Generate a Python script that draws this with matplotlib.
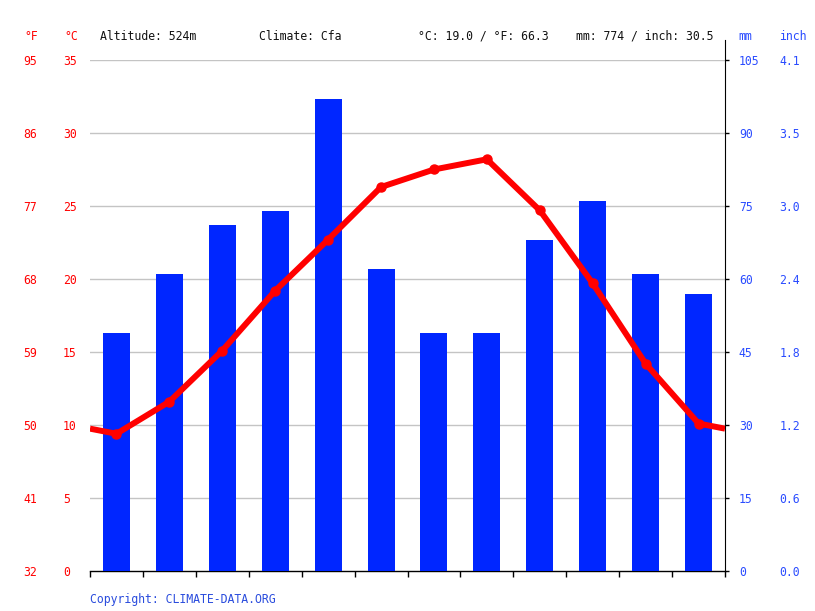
import numpy as np
import matplotlib
matplotlib.use("Agg")
import matplotlib.pyplot as plt

months = ["01", "02", "03", "04", "05", "06", "07", "08", "09", "10", "11", "12"]
temp_c = [9.4, 11.6, 15.1, 19.2, 22.7, 26.3, 27.5, 28.2, 24.7, 19.7, 14.2, 10.1]
precip_mm = [49, 61, 71, 74, 97, 62, 49, 49, 68, 76, 61, 57]

c_ticks = [0, 5, 10, 15, 20, 25, 30, 35]
f_labels = ["32", "41", "50", "59", "68", "77", "86", "95"]
mm_ticks = [0, 15, 30, 45, 60, 75, 90, 105]
inch_labels = ["0.0", "0.6", "1.2", "1.8", "2.4", "3.0", "3.5", "4.1"]

header = ["Altitude: 524m", "Climate: Cfa", "°C: 19.0 / °F: 66.3", "mm: 774 / inch: 30.5"]

plt.rcParams["font.family"] = ["DejaVu Sans Mono"]
fs = 8.3
RED = "#ff0000"
BLUE = "#0026ff"
LBLUE = "#2a4cff"
W, H = 815, 611

fig = plt.figure(figsize=(W / 100, H / 100), dpi=100)
ax = fig.add_axes([90 / W, 40 / H, 635 / W, 511 / H])
ax2 = ax.twinx()

x = np.arange(12)
ax2.bar(x, precip_mm, width=0.51, color=BLUE, zorder=2)
ax2.set_ylim(0, 105)

# temperature line, with ends wrapped around to the plot edges
edge = (temp_c[0] + temp_c[-1]) / 2
xl = np.concatenate([[-0.5], x, [11.5]])
yl = np.concatenate([[edge], temp_c, [edge]])
ax3 = ax.twinx()
ax3.set_ylim(0, 35)
ax3.plot(xl, yl, color=RED, lw=4.3, solid_capstyle="butt", zorder=5)
ax3.plot(x, temp_c, "o", color=RED, ms=6.5, zorder=6)
ax3.set_yticks([])
for s in ax3.spines.values():
    s.set_visible(False)

ax.set_xlim(-0.5, 11.5)
ax.set_ylim(0, 35)
for a in (ax, ax2):
    a.set_xlim(-0.5, 11.5)

# grid
for c in c_ticks[1:]:
    ax.axhline(c, color="#c4c4c4", lw=1, zorder=0)

# celsius ticks
ax.set_yticks(c_ticks)
ax.set_yticklabels([str(c) for c in c_ticks])
ax.tick_params(axis="y", length=0, pad=19.4, labelcolor=RED, labelsize=fs)
for t in ax.get_yticklabels():
    t.set_horizontalalignment("left")

# fahrenheit ticks
secf = ax.secondary_yaxis("left")
secf.set_yticks(c_ticks)
secf.set_yticklabels(f_labels)
secf.tick_params(axis="y", length=0, pad=48.2, labelcolor=RED, labelsize=fs)
for t in secf.get_yticklabels():
    t.set_horizontalalignment("left")
secf.spines["left"].set_visible(False)

# mm ticks
ax2.set_yticks(mm_ticks)
ax2.set_yticklabels([str(m) for m in mm_ticks])
ax2.tick_params(axis="y", length=3, width=1, direction="out", pad=7, labelcolor=LBLUE, labelsize=fs)

# inch ticks
seci = ax2.secondary_yaxis("right")
seci.set_yticks(mm_ticks)
seci.set_yticklabels(inch_labels)
seci.tick_params(axis="y", length=0, pad=39, labelcolor=LBLUE, labelsize=fs)
seci.spines["right"].set_visible(False)

for a in (ax, ax2):
    a.spines["top"].set_visible(False)
    a.spines["left"].set_visible(False)
ax.spines["right"].set_visible(False)
ax2.spines["bottom"].set_visible(False)
ax2.spines["right"].set_bounds(0, 105 * (571 - 40) / 511)
ax2.spines["right"].set_clip_on(False)

# month axis
ax.set_xticks(x)
ax.set_xticklabels(months)
ax.set_xticks(np.arange(-0.5, 12, 1), minor=True)
ax.tick_params(axis="x", which="major", length=0, pad=6, labelcolor="#333333", labelsize=fs)
ax.tick_params(axis="x", which="minor", length=4, width=1)
ax.spines["bottom"].set_linewidth(1)
ax2.set_xticks([])

# header
fig.text(24 / W, 1 - 36 / H, "°F", color=RED, fontsize=fs, va="center")
fig.text(64 / W, 1 - 36 / H, "°C", color=RED, fontsize=fs, va="center")
fig.text(738 / W, 1 - 36 / H, "mm", color=LBLUE, fontsize=fs, va="center")
fig.text(779 / W, 1 - 36 / H, "inch", color=LBLUE, fontsize=fs, va="center")
for xp, s in zip([100, 259, 418, 576], header):
    fig.text(xp / W, 1 - 36 / H, s, color="#111111", fontsize=fs, va="center")

fig.text(90 / W, 1 - 599 / H, "Copyright: CLIMATE-DATA.ORG", color="#2a4cdd", fontsize=fs, va="center")

fig.savefig("out.png", dpi=100)
